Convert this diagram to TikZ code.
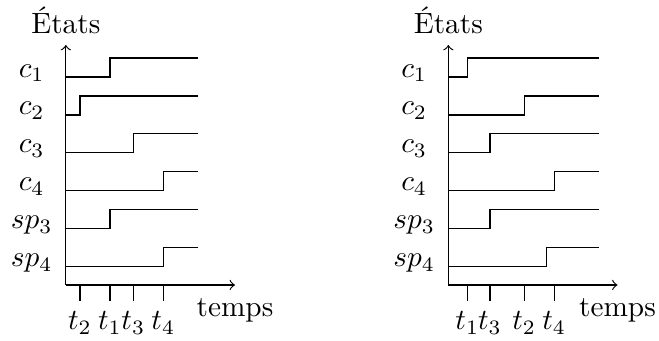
\documentclass[tikz,border=0pt]{standalone}
\usepackage{tikz}

\begin{document}
\begin{tikzpicture}
  \useasboundingbox (-0.79,-0.672) rectangle (7.118,3.42);

  % Panel gauche: axes (origine au coin des axes)
  \node[anchor=base] (etats-g) at (0,3.02) {États};
  \draw[->] (0,0) -- (0,2.88);
  \draw[->] (0,0) -- (2.03,0);
  \node[anchor=base] (temps-g) at (2.03,-0.38) {temps};

  % Etats: c_1 ... sp_4 (bas a \y, saut a \x, hauteur 0.228)
  \foreach \i/\y/\x/\lbl in {1/2.495/0.53/c_1, 2/2.04/0.17/c_2, 3/1.585/0.81/c_3, 4/1.13/1.17/c_4, 5/0.675/0.53/sp_3, 6/0.22/1.17/sp_4} {
    \node[anchor=base] (etat-g-\i) at (-0.41,\y) {$\lbl$};
    \draw (0,\y) -- (\x,\y) -- (\x,\y+0.228) -- (1.584,\y+0.228);
  }

  % Ticks: t_2 t_1 t_3 t_4
  \foreach \i/\x/\lbl in {1/0.17/t_2, 2/0.53/t_1, 3/0.81/t_3, 4/1.17/t_4} {
    \draw (\x,0) -- (\x,-0.19);
    \node[anchor=base] (tick-g-\i) at (\x,-0.54) {$\lbl$};
  }

  % Panel droit: meme axes, decale de 4.59 cm
  \begin{scope}[xshift=4.59cm]
    \node[anchor=base] (etats-d) at (0,3.02) {États};
    \draw[->] (0,0) -- (0,2.88);
    \draw[->] (0,0) -- (2.03,0);
    \node[anchor=base] (temps-d) at (2.03,-0.38) {temps};

    \foreach \i/\y/\x/\lbl in {1/2.495/0.228/c_1, 2/2.04/0.91/c_2, 3/1.585/0.50/c_3, 4/1.13/1.27/c_4, 5/0.675/0.50/sp_3, 6/0.22/1.18/sp_4} {
      \node[anchor=base] (etat-d-\i) at (-0.41,\y) {$\lbl$};
      \draw (0,\y) -- (\x,\y) -- (\x,\y+0.228) -- (1.81,\y+0.228);
    }

    % Ticks: t_1 t_3 t_2 t_4
    \foreach \i/\x/\lbl in {1/0.228/t_1, 2/0.50/t_3, 3/0.91/t_2, 4/1.27/t_4} {
      \draw (\x,0) -- (\x,-0.19);
      \node[anchor=base] (tick-d-\i) at (\x,-0.54) {$\lbl$};
    }
  \end{scope}
\end{tikzpicture}
\end{document}
